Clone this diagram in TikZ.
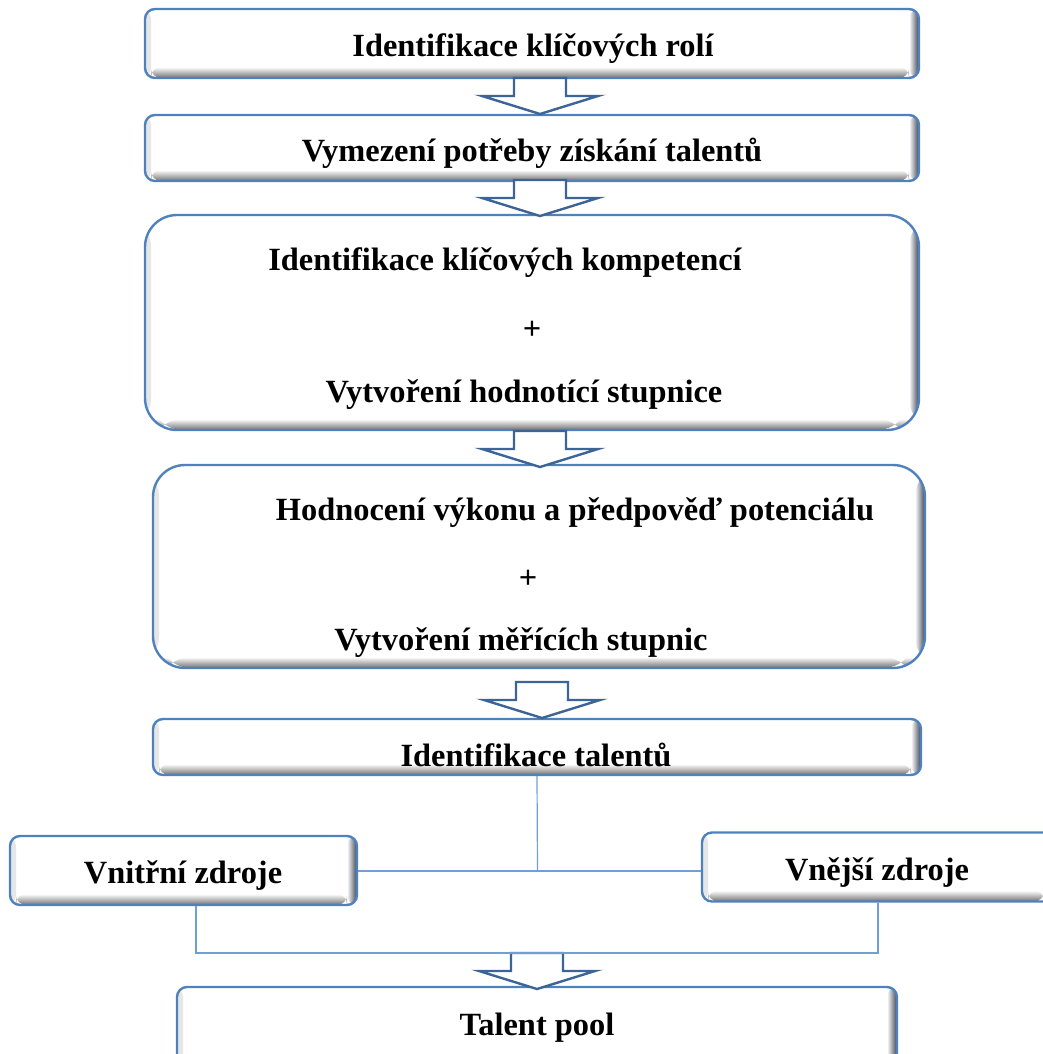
\documentclass[tikz,border=0pt]{standalone}
\usepackage{fontspec}
\setmainfont{Liberation Serif}
\usetikzlibrary{calc}

\definecolor{boxblue}{RGB}{79,129,189}
\definecolor{arrowblue}{RGB}{60,100,150}
\definecolor{lineblue}{RGB}{110,160,215}
\definecolor{bevelgray}{RGB}{112,112,112}
\definecolor{beveldark}{RGB}{60,68,82}

\tikzset{
  bevelbox/.style={draw=boxblue, line width=2.4pt, fill=white, rounded corners=#1,
    inner sep=0pt,
    path picture={
      \shade[left color=black!10, right color=white]
        (path picture bounding box.south west) rectangle ([xshift=6pt]path picture bounding box.north west);
      \shade[left color=white, right color=beveldark]
        ([xshift=-10pt]path picture bounding box.north east) rectangle (path picture bounding box.south east);
      \shade[top color=white, bottom color=bevelgray]
        ([yshift=11pt,xshift=6pt]path picture bounding box.south west) rectangle ([xshift=-10pt]path picture bounding box.south east);
    }},
  bevelbox/.default=10pt,
  label text/.style={font=\bfseries\fontsize{32.4}{38}\selectfont, text=black, inner sep=0pt},
  arrowline/.style={draw=arrowblue, line width=2.4pt, fill=white, line join=miter},
  link/.style={draw=lineblue, line width=1.2pt},
  downarrow/.pic={\path[arrowline] (-26,0) -- (26,0) -- (26,18) -- (58,18) -- (0,36) -- (-58,18) -- (-26,18) -- cycle;}
}

\begin{document}
\begin{tikzpicture}[x=1pt, y=-1pt]
\useasboundingbox (0,0) rectangle (1043,1054);
\clip (0,0) rectangle (1043,1054);

% main chain of steps
\node[bevelbox, minimum width=774pt, minimum height=69pt] (b1) at (532,43.5) {};
\node[label text] (t1) at (533,49) {Identifikace klíčových rolí};

\node[bevelbox, minimum width=774pt, minimum height=66pt] (b2) at (532,148) {};
\node[label text] (t2) at (532,153) {Vymezení potřeby získání talentů};

\node[bevelbox=32pt, minimum width=774pt, minimum height=215pt] (b3) at (532,322.5) {};
\node[label text] (t3a) at (505,263) {Identifikace klíčových kompetencí};
\node[label text] (t3p) at (532,330) {+};
\node[label text] (t3b) at (524,395) {Vytvoření hodnotící stupnice};

\node[bevelbox=32pt, minimum width=772pt, minimum height=203pt] (b4) at (539,566.5) {};
\node[label text] (t4a) at (575,513) {Hodnocení výkonu a předpověď potenciálu};
\node[label text] (t4p) at (528,579) {+};
\node[label text] (t4b) at (521,643) {Vytvoření měřících stupnic};

\node[bevelbox, minimum width=768pt, minimum height=56pt] (b5) at (537,747) {};
\node[label text] (t5) at (536,755) {Identifikace talentů};

% sources
\node[bevelbox, minimum width=347pt, minimum height=69pt] (bin) at (183.5,870.5) {};
\node[label text] (tin) at (183,876) {Vnitřní zdroje};

\node[bevelbox, minimum width=352pt, minimum height=69pt] (bex) at (878,867) {};
\node[label text] (tex) at (877,873) {Vnější zdroje};

% final pool
\node[bevelbox, minimum width=720pt, minimum height=82pt] (btp) at (537,1028) {};
\node[label text] (ttp) at (537,1028) {Talent pool};

% block arrows between steps
\pic at (540,78) {downarrow};
\pic at (540,180) {downarrow};
\pic at (540,431) {downarrow};
\pic at (542,682) {downarrow};
\pic at (537,953) {downarrow};

% thin connectors
\coordinate (j1) at (537.5,871);
\coordinate (j2) at (537,953);
\draw[link] (b5.south) -- (j1);
\draw[link] (bin.east |- j1) -- (bex.west |- j1);
\draw[link] ([xshift=12.5pt]bin.south) |- (j2) -| (bex.south);
\end{tikzpicture}
\end{document}
